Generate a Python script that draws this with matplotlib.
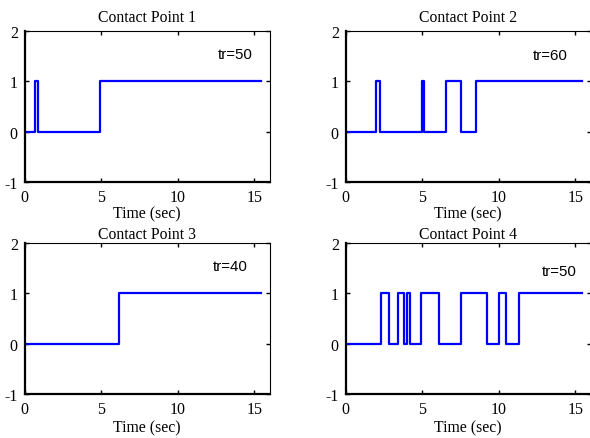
import matplotlib.pyplot as plt
import numpy as np

# switching instants (sec) for each contact point; state starts at 0 and toggles
titles = ['Contact Point 1', 'Contact Point 2', 'Contact Point 3', 'Contact Point 4']
tr_labels = ['tr=50', 'tr=60', 'tr=40', 'tr=50']
switch_times = [
    [0.65, 0.85, 4.92],
    [2.0, 2.25, 4.97, 5.1, 6.58, 7.55, 8.51],
    [6.14],
    [2.33, 2.85, 3.39, 3.83, 4.02, 4.2, 4.94, 6.07, 7.55, 9.2, 10.03, 10.5, 11.35],
]
t_end = 15.45
label_x = [12.6, 12.2, 12.3, 12.8]
label_y = [1.55, 1.52, 1.55, 1.45]

plt.rcParams['font.family'] = ['Liberation Serif', 'DejaVu Serif']
plt.rcParams['font.size'] = 11.3
plt.rcParams['axes.unicode_minus'] = False

fig = plt.figure(figsize=(5.9, 4.39), dpi=100)
positions = [
    [0.042, 0.583, 0.415, 0.344],
    [0.586, 0.583, 0.415, 0.344],
    [0.042, 0.100, 0.415, 0.344],
    [0.586, 0.100, 0.415, 0.344],
]

for i in range(4):
    ax = fig.add_axes(positions[i])
    sw = switch_times[i]
    t = np.concatenate([[0.0], sw, [t_end]])
    states = np.arange(len(sw) + 1) % 2
    y = np.concatenate([states, [states[-1]]])
    ax.step(t, y, where='post', color='#0000ff', linewidth=1.6)

    ax.set_xlim(0, 16)
    ax.set_ylim(-1, 2)
    ax.set_xticks([0, 5, 10, 15])
    ax.set_yticks([-1, 0, 1, 2])
    ax.tick_params(direction='in', length=3, width=1, top=True, right=True,
                   labelsize=11.5)
    ax.tick_params(axis='x', pad=5)
    ax.tick_params(axis='y', pad=5)
    ax.spines['left'].set_linewidth(1.6)
    ax.spines['bottom'].set_linewidth(1.6)
    ax.spines['top'].set_linewidth(0.8)
    ax.spines['right'].set_linewidth(0.8)
    top_row = i < 2
    ax.set_title(titles[i], fontsize=11.3, pad=7 if top_row else 4)
    ax.set_xlabel('Time (sec)', fontsize=11.3, labelpad=0 if top_row else 2)
    ax.text(label_x[i], label_y[i], tr_labels[i], fontsize=10.8,
            family=['Liberation Sans', 'DejaVu Sans'], va='center')

fig.savefig('out.png', dpi=100)
